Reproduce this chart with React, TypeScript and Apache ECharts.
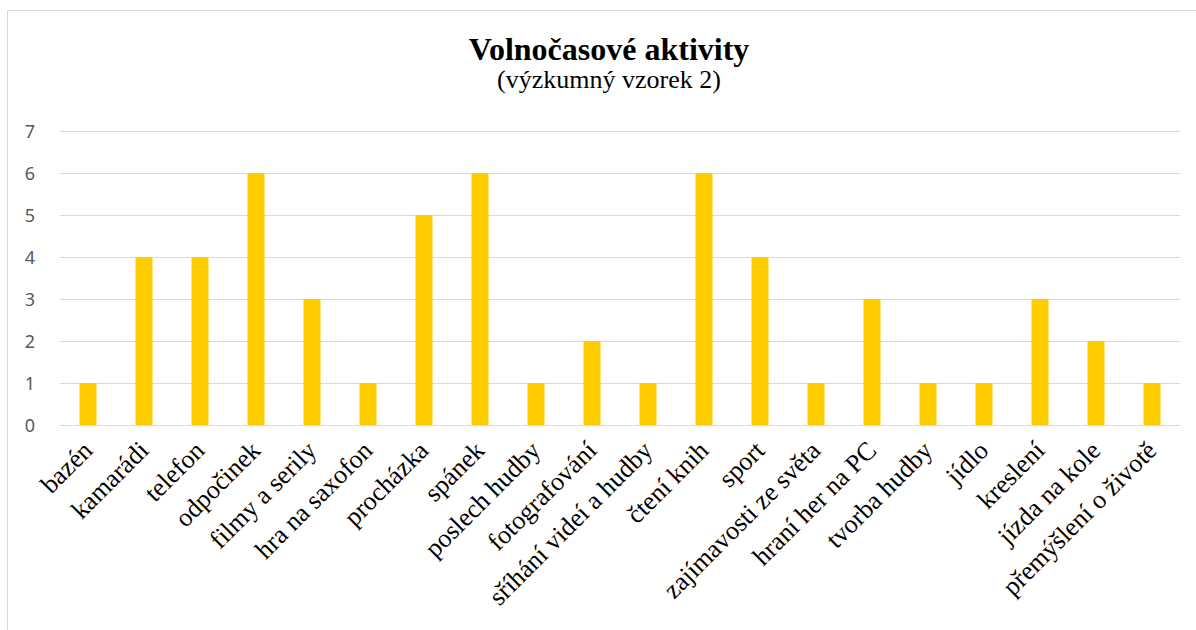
import React, { useEffect, useRef } from "react";
import * as echarts from "echarts";

const categories = [
  "bazén",
  "kamarádi",
  "telefon",
  "odpočinek",
  "filmy a serily",
  "hra na saxofon",
  "procházka",
  "spánek",
  "poslech hudby",
  "fotografování",
  "sříhání videí a hudby",
  "čtení knih",
  "sport",
  "zajímavosti ze světa",
  "hraní her na PC",
  "tvorba hudby",
  "jídlo",
  "kreslení",
  "jízda na kole",
  "přemýšlení o životě",
];
const values = [1, 4, 4, 6, 3, 1, 5, 6, 1, 2, 1, 6, 4, 1, 3, 1, 1, 3, 2, 1];
const titleText = "Volnočasové aktivity";
const subtitleText = "(výzkumný vzorek 2)";

export default function App() {
  const ref = useRef<HTMLDivElement>(null);
  useEffect(() => {
    if (!ref.current) return;
    const chart = echarts.init(ref.current, undefined, { renderer: "svg" });
    chart.setOption({
      animation: false,
      backgroundColor: "#ffffff",
      graphic: [
        {
          type: "rect",
          shape: { x: 7.5, y: 10.5, width: 1220, height: 660 },
          style: { fill: "none", stroke: "#d9d9d9", lineWidth: 1 },
          silent: true,
        },
      ],
      title: {
        text: titleText,
        subtext: subtitleText,
        left: 604,
        textAlign: "center",
        top: 28,
        itemGap: 1,
        textStyle: {
          fontFamily: "Liberation Serif",
          fontWeight: "bold",
          fontSize: 32,
          color: "#000000",
        },
        subtextStyle: {
          fontFamily: "Liberation Serif",
          fontSize: 26,
          color: "#000000",
        },
      },
      grid: { left: 60, right: 16, top: 131, bottom: 205, containLabel: false },
      xAxis: {
        type: "category",
        data: categories,
        axisLine: { show: true, lineStyle: { color: "#d9d9d9", width: 1 } },
        axisTick: { show: false },
        axisLabel: {
          interval: 0,
          rotate: 45,
          margin: 21,
          fontFamily: "Liberation Serif",
          fontSize: 26,
          color: "#000000",
        },
      },
      yAxis: {
        type: "value",
        min: 0,
        max: 7,
        interval: 1,
        axisLine: { show: false },
        axisTick: { show: false },
        splitLine: { lineStyle: { color: "#d9d9d9", width: 1 } },
        axisLabel: {
          margin: 25,
          fontFamily: "Noto Sans",
          fontSize: 18,
          color: "#595959",
        },
      },
      series: [
        {
          type: "bar",
          data: values,
          barWidth: 17,
          itemStyle: { color: "#ffcc00" },
        },
      ],
    });
    return () => chart.dispose();
  }, []);
  return (
    <div
      ref={ref}
      style={{ position: "fixed", left: 0, top: 0, width: 1196, height: 630 }}
    />
  );
}
